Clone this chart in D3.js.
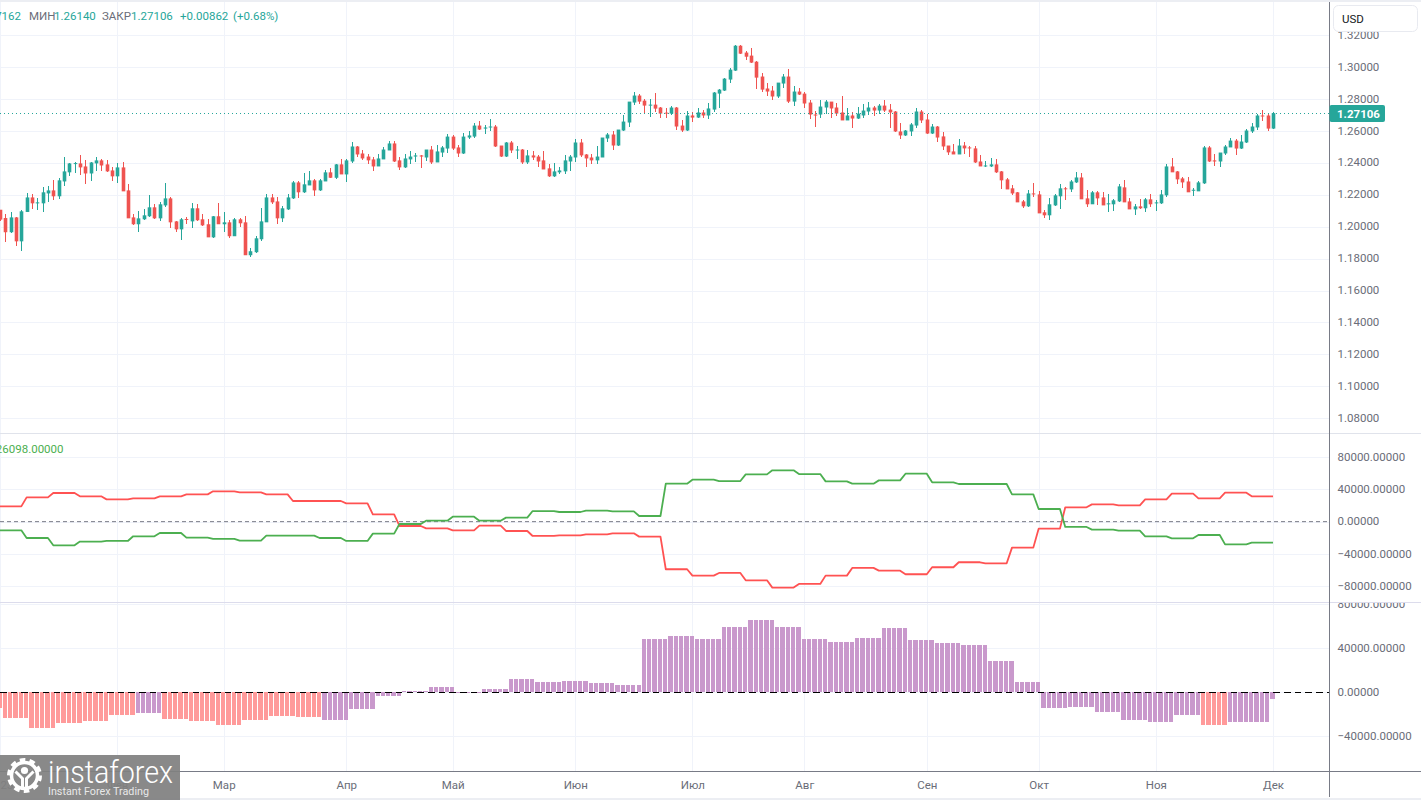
<!DOCTYPE html>
<html><head><meta charset="utf-8">
<style>html,body{margin:0;padding:0;background:#fff;overflow:hidden}svg{display:block}
text{font-family:Roboto,"Liberation Sans",sans-serif}</style>
<script src="https://cdn.jsdelivr.net/npm/d3@7/dist/d3.min.js"></script></head>
<body><svg id="c" width="1421" height="800"></svg>
<script>
const opens=[
1.2106,1.2054,1.1965,1.2058,1.1908,1.2092,1.2183,1.2146,1.2146,1.2208,
1.2227,1.2190,1.2283,1.2340,1.2392,1.2396,1.2377,1.2333,1.2396,1.2415,
1.2390,1.2352,1.2315,1.2371,1.2227,1.2058,1.2015,1.2046,1.2065,1.2121,
1.2052,1.2133,1.2177,1.2033,1.1983,1.2048,1.2033,1.2115,1.2046,1.2015,
1.1933,1.2065,1.2015,1.2027,1.1940,1.2046,1.2027,1.1821,1.1840,1.1921,
1.2027,1.2183,1.2158,1.2052,1.2108,1.2177,1.2277,1.2215,1.2258,1.2290,
1.2227,1.2283,1.2340,1.2306,1.2390,1.2327,1.2408,1.2502,1.2458,1.2439,
1.2421,1.2377,1.2421,1.2477,1.2521,1.2415,1.2371,1.2421,1.2439,1.2446,
1.2433,1.2483,1.2402,1.2464,1.2489,1.2564,1.2496,1.2458,1.2558,1.2564,
1.2633,1.2614,1.2621,1.2627,1.2508,1.2439,1.2527,1.2477,1.2483,1.2402,
1.2446,1.2439,1.2415,1.2365,1.2315,1.2340,1.2346,1.2408,1.2433,1.2527,
1.2452,1.2433,1.2415,1.2433,1.2552,1.2577,1.2508,1.2602,1.2652,1.2777,
1.2821,1.2789,1.2758,1.2764,1.2746,1.2714,1.2708,1.2746,1.2633,1.2602,
1.2696,1.2683,1.2715,1.2696,1.2733,1.2833,1.2852,1.2921,1.2977,1.3133,
1.3090,1.3071,1.3033,1.2940,1.2865,1.2852,1.2815,1.2896,1.2940,1.2783,
1.2846,1.2833,1.2777,1.2702,1.2702,1.2746,1.2783,1.2746,1.2715,1.2665,
1.2696,1.2677,1.2696,1.2721,1.2746,1.2727,1.2758,1.2733,1.2721,1.2596,
1.2571,1.2596,1.2633,1.2721,1.2671,1.2583,1.2627,1.2565,1.2508,1.2471,
1.2452,1.2508,1.2496,1.2490,1.2408,1.2377,1.2377,1.2390,1.2346,1.2296,
1.2240,1.2215,1.2158,1.2127,1.2208,1.2202,1.2090,1.2071,1.2133,1.2190,
1.2240,1.2233,1.2277,1.2308,1.2177,1.2140,1.2215,1.2183,1.2140,1.2140,
1.2158,1.2246,1.2158,1.2108,1.2127,1.2115,1.2171,1.2148,1.2146,1.2196,
1.2377,1.2346,1.2302,1.2283,1.2227,1.2221,1.2271,1.2496,1.2415,1.2408,
1.2458,1.2496,1.2539,1.2489,1.2527,1.2596,1.2621,1.2696,1.2696,1.2614];
const highs=[
1.2106,1.2081,1.2090,1.2058,1.2102,1.2208,1.2202,1.2177,1.2246,1.2252,
1.2290,1.2302,1.2433,1.2396,1.2402,1.2446,1.2415,1.2402,1.2433,1.2421,
1.2415,1.2371,1.2396,1.2402,1.2265,1.2077,1.2096,1.2108,1.2196,1.2140,
1.2152,1.2271,1.2183,1.2033,1.2052,1.2058,1.2146,1.2140,1.2077,1.2046,
1.2065,1.2146,1.2090,1.2040,1.2052,1.2052,1.2065,1.1865,1.1940,1.2115,
1.2202,1.2202,1.2183,1.2127,1.2202,1.2283,1.2283,1.2333,1.2346,1.2296,
1.2296,1.2352,1.2365,1.2390,1.2421,1.2421,1.2527,1.2508,1.2477,1.2458,
1.2439,1.2458,1.2496,1.2539,1.2539,1.2439,1.2452,1.2471,1.2464,1.2446,
1.2483,1.2502,1.2514,1.2502,1.2583,1.2571,1.2514,1.2589,1.2596,1.2652,
1.2664,1.2639,1.2677,1.2639,1.2508,1.2533,1.2539,1.2508,1.2489,1.2483,
1.2471,1.2446,1.2471,1.2390,1.2396,1.2371,1.2446,1.2446,1.2546,1.2546,
1.2458,1.2458,1.2502,1.2558,1.2589,1.2596,1.2608,1.2702,1.2783,1.2846,
1.2833,1.2802,1.2802,1.2839,1.2752,1.2746,1.2758,1.2752,1.2665,1.2727,
1.2721,1.2740,1.2733,1.2777,1.2846,1.2865,1.2933,1.2996,1.3140,1.3140,
1.3102,1.3121,1.3039,1.2965,1.2902,1.2883,1.2902,1.2958,1.2990,1.2883,
1.2871,1.2840,1.2796,1.2727,1.2790,1.2790,1.2783,1.2777,1.2815,1.2740,
1.2715,1.2752,1.2765,1.2783,1.2758,1.2765,1.2796,1.2765,1.2727,1.2652,
1.2608,1.2652,1.2740,1.2733,1.2708,1.2640,1.2633,1.2590,1.2508,1.2515,
1.2546,1.2527,1.2502,1.2508,1.2446,1.2408,1.2427,1.2421,1.2346,1.2302,
1.2258,1.2215,1.2165,1.2227,1.2271,1.2221,1.2102,1.2177,1.2202,1.2265,
1.2246,1.2290,1.2340,1.2333,1.2227,1.2221,1.2221,1.2215,1.2202,1.2171,
1.2265,1.2290,1.2177,1.2140,1.2171,1.2177,1.2202,1.2165,1.2227,1.2390,
1.2427,1.2346,1.2308,1.2308,1.2240,1.2283,1.2502,1.2502,1.2458,1.2464,
1.2514,1.2558,1.2546,1.2571,1.2614,1.2646,1.2708,1.2733,1.2708,1.2716];
const lows=[
1.2035,1.1902,1.1960,1.1877,1.1846,1.2092,1.2108,1.2102,1.2090,1.2152,
1.2165,1.2171,1.2252,1.2315,1.2333,1.2321,1.2265,1.2283,1.2346,1.2346,
1.2340,1.2283,1.2271,1.2221,1.2052,1.2008,1.1965,1.2040,1.2058,1.2046,
1.2033,1.2121,1.1990,1.1965,1.1915,1.2015,1.1990,1.2033,1.2002,1.1933,
1.1927,1.2015,1.1965,1.1927,1.1940,1.1996,1.1821,1.1808,1.1833,1.1908,
1.2027,1.2140,1.2015,1.2027,1.2102,1.2171,1.2177,1.2208,1.2258,1.2190,
1.2221,1.2283,1.2302,1.2296,1.2327,1.2277,1.2396,1.2439,1.2415,1.2390,
1.2346,1.2377,1.2421,1.2477,1.2402,1.2352,1.2365,1.2390,1.2402,1.2365,
1.2408,1.2390,1.2402,1.2433,1.2464,1.2477,1.2433,1.2458,1.2546,1.2558,
1.2608,1.2577,1.2602,1.2496,1.2439,1.2439,1.2464,1.2421,1.2390,1.2390,
1.2415,1.2371,1.2358,1.2308,1.2308,1.2327,1.2327,1.2346,1.2402,1.2439,
1.2371,1.2390,1.2390,1.2433,1.2533,1.2483,1.2508,1.2602,1.2627,1.2764,
1.2771,1.2714,1.2689,1.2721,1.2683,1.2683,1.2702,1.2608,1.2590,1.2596,
1.2658,1.2683,1.2683,1.2671,1.2721,1.2746,1.2852,1.2902,1.2977,1.3083,
1.3046,1.3027,1.2865,1.2840,1.2815,1.2796,1.2808,1.2871,1.2777,1.2758,
1.2827,1.2740,1.2677,1.2621,1.2683,1.2708,1.2683,1.2690,1.2665,1.2665,
1.2615,1.2677,1.2683,1.2702,1.2690,1.2708,1.2715,1.2615,1.2590,1.2546,
1.2565,1.2565,1.2615,1.2652,1.2577,1.2583,1.2527,1.2483,1.2446,1.2452,
1.2452,1.2458,1.2433,1.2396,1.2377,1.2371,1.2371,1.2333,1.2233,1.2233,
1.2196,1.2152,1.2115,1.2121,1.2183,1.2083,1.2052,1.2040,1.2127,1.2108,
1.2165,1.2215,1.2271,1.2171,1.2121,1.2140,1.2133,1.2133,1.2090,1.2096,
1.2152,1.2152,1.2108,1.2071,1.2108,1.2090,1.2121,1.2096,1.2140,1.2183,
1.2340,1.2265,1.2240,1.2215,1.2190,1.2221,1.2265,1.2402,1.2377,1.2371,
1.2446,1.2496,1.2446,1.2489,1.2521,1.2589,1.2608,1.2664,1.2602,1.2614];
const closes=[
1.2044,1.1965,1.2058,1.1908,1.2096,1.2183,1.2146,1.2152,1.2215,1.2227,
1.2190,1.2290,1.2346,1.2396,1.2398,1.2371,1.2333,1.2402,1.2415,1.2383,
1.2346,1.2315,1.2371,1.2221,1.2052,1.2015,1.2052,1.2071,1.2121,1.2052,
1.2140,1.2177,1.2027,1.1983,1.2046,1.2042,1.2115,1.2040,1.2008,1.1933,
1.2065,1.2015,1.2027,1.1940,1.2046,1.2021,1.1821,1.1846,1.1927,1.2033,
1.2183,1.2152,1.2052,1.2115,1.2183,1.2277,1.2215,1.2265,1.2290,1.2227,
1.2290,1.2340,1.2306,1.2390,1.2327,1.2415,1.2502,1.2452,1.2427,1.2415,
1.2377,1.2427,1.2483,1.2521,1.2408,1.2371,1.2427,1.2439,1.2446,1.2439,
1.2483,1.2402,1.2471,1.2496,1.2564,1.2489,1.2458,1.2564,1.2571,1.2633,
1.2608,1.2621,1.2627,1.2502,1.2439,1.2527,1.2477,1.2483,1.2402,1.2446,
1.2433,1.2408,1.2358,1.2315,1.2346,1.2352,1.2415,1.2439,1.2527,1.2446,
1.2427,1.2415,1.2439,1.2558,1.2577,1.2508,1.2608,1.2658,1.2783,1.2821,
1.2783,1.2758,1.2764,1.2739,1.2708,1.2708,1.2746,1.2627,1.2602,1.2696,
1.2683,1.2715,1.2696,1.2740,1.2840,1.2858,1.2927,1.2983,1.3133,1.3083,
1.3064,1.3027,1.2933,1.2858,1.2846,1.2815,1.2902,1.2940,1.2783,1.2846,
1.2827,1.2771,1.2702,1.2698,1.2752,1.2783,1.2740,1.2708,1.2665,1.2696,
1.2677,1.2708,1.2727,1.2746,1.2727,1.2758,1.2727,1.2715,1.2596,1.2571,
1.2602,1.2640,1.2721,1.2665,1.2583,1.2627,1.2558,1.2502,1.2465,1.2452,
1.2508,1.2490,1.2492,1.2402,1.2377,1.2383,1.2390,1.2340,1.2290,1.2233,
1.2208,1.2152,1.2127,1.2208,1.2202,1.2083,1.2071,1.2140,1.2196,1.2240,
1.2235,1.2283,1.2308,1.2171,1.2140,1.2215,1.2177,1.2133,1.2146,1.2165,
1.2252,1.2152,1.2108,1.2127,1.2115,1.2171,1.2140,1.2152,1.2202,1.2377,
1.2340,1.2296,1.2277,1.2215,1.2231,1.2277,1.2496,1.2408,1.2408,1.2464,
1.2502,1.2539,1.2489,1.2533,1.2602,1.2627,1.2696,1.2692,1.2614,1.27106];

const shortsWeekly=[19000,30200,35600,31500,27700,29000,31500,33900,37700,36400,33900,25700,25700,22800,9100,-5400,-8300,-10800,-5000,-11600,-17800,-17000,-15700,-14500,-18600,-59200,-67100,-63800,-72900,-82000,-77400,-67100,-57500,-60900,-65400,-56700,-50500,-51800,-32300,-8700,17800,21500,20300,27700,34800,29000,36000,31500];
const longsWeekly=[-10800,-20300,-29400,-24800,-24000,-18200,-14100,-19900,-21500,-23600,-17400,-17400,-20300,-24000,-14900,-2900,1200,6200,1200,5000,13200,12000,13700,12800,7000,47200,52200,50500,58800,63800,59200,50100,47200,51300,59600,48900,46800,46800,33900,15700,-6600,-9900,-11200,-18200,-20700,-16600,-28200,-26098];

const histValues=[-14200,-23300,-32400,-27900,-26100,-20600,-18800,-24200,-26100,-29700,-25100,-21500,-22400,-25100,-15200,-3300,1200,4800,-500,3000,12100,9400,10300,8500,6700,48500,51200,48500,59400,65800,59400,48500,45800,49400,58500,47600,44800,43000,28500,9400,-14200,-13300,-17900,-25100,-27000,-20600,-29700,-27000,-27000,-6100];
const histLength=[1,5,5,5,5,5,5,5,5,5,5,5,5,5,5,5,5,5,5,5,5,5,5,5,5,5,5,5,5,5,5,5,5,5,5,5,5,5,5,5,5,5,5,5,5,5,5,5,3,1];
const histPhase=["a","a","a","a","a","a","b","a","a","a","a","a","a","b","b","b","b","b","b","b","b","b","b","b","b","b","b","b","b","b","b","b","b","b","b","b","b","b","b","b","b","b","b","b","b","b","a","b","b","b"];

const priceTicks=[1.32,1.30,1.28,1.26,1.24,1.22,1.20,1.18,1.16,1.14,1.12,1.10,1.08];
const positionTicks=[80000,40000,0,-40000,-80000];
const histTicks=[80000,40000,0,-40000];
const monthBars=[0,22,42,65,85,108,130,151,174,195,217,239];
const monthLabels=["2023","Фев","Мар","Апр","Май","Июн","Июл","Авг","Сен","Окт","Ноя","Дек"];
const lastPrice=1.27106;

const C={up:"#26a69a",down:"#ef5350",grid:"#f0f3fa",axis:"#787b86",label:"#6a6d78",long:"#4caf50",short:"#ff5252",a:"#ff9a9a",b:"#c999cc"};
const axisX=1329.5, W=1421;
const svg=d3.select("#c");
const x=d3.scaleLinear().domain([0,239]).range([0,1273]);
const yP=d3.scaleLinear().domain([1.08,1.32]).range([418.3,35]);
const yL=d3.scaleLinear().domain([-80000,80000]).range([586,457.3]);
const yH=d3.scaleLinear().domain([-40000,80000]).range([736.3,604.3]);
const fmt=d3.format(".5f");
const minus=s=>s.replace("-","\u2212");

const defs=svg.append("defs");
defs.append("clipPath").attr("id","cp").append("rect").attr("x",0).attr("y",0).attr("width",axisX).attr("height",433);
defs.append("clipPath").attr("id","ch").append("rect").attr("x",axisX).attr("y",603).attr("width",W-axisX).attr("height",168);

svg.append("rect").attr("width",W).attr("height",800).attr("fill","#fff");

// grid
const grid=svg.append("g").attr("shape-rendering","crispEdges").attr("stroke",C.grid);
grid.selectAll(".v").data(monthBars).join("line").attr("x1",d=>Math.round(x(d))+.5).attr("x2",d=>Math.round(x(d))+.5).attr("y1",2).attr("y2",771);
[[priceTicks,yP],[positionTicks,yL],[histTicks,yH]].forEach(([t,s])=>{
  grid.append("g").selectAll("line").data(t).join("line").attr("x1",0).attr("x2",axisX).attr("y1",d=>Math.round(s(d))+.5).attr("y2",d=>Math.round(s(d))+.5);
});

// candles
const bars=d3.range(closes.length);
const cg=svg.append("g").attr("clip-path","url(#cp)");
const col=i=>closes[i]>=opens[i]?C.up:C.down;
cg.selectAll(".w").data(bars).join("line").attr("stroke",col).attr("shape-rendering","crispEdges")
  .attr("x1",i=>Math.round(x(i))+.5).attr("x2",i=>Math.round(x(i))+.5)
  .attr("y1",i=>yP(highs[i])).attr("y2",i=>yP(lows[i]));
cg.selectAll(".b").data(bars).join("rect").attr("fill",col)
  .attr("x",i=>Math.round(x(i))+.5-1.8).attr("width",3.6)
  .attr("y",i=>yP(Math.max(opens[i],closes[i])))
  .attr("height",i=>Math.max(1,Math.abs(yP(opens[i])-yP(closes[i]))));

// last price line
svg.append("line").attr("x1",0).attr("x2",axisX).attr("y1",Math.round(yP(lastPrice))+.5).attr("y2",Math.round(yP(lastPrice))+.5)
  .attr("stroke",C.up).attr("stroke-dasharray","1 3");

// position lines
svg.append("line").attr("x1",0).attr("x2",axisX).attr("y1",yL(0)).attr("y2",yL(0)).attr("stroke",C.axis).attr("stroke-dasharray","4 3");
const line=w=>d3.line().x(i=>x(i)).y(i=>yL(w[Math.floor(i/5)]));
[[shortsWeekly,C.short],[longsWeekly,C.long]].forEach(([w,c])=>{
  svg.append("path").attr("d",line(w)(bars)).attr("fill","none").attr("stroke",c).attr("stroke-width",1.8).attr("stroke-linejoin","round");
});

// histogram
const histBarValues=d3.merge(histLength.map((n,k)=>d3.range(n).map(()=>({v:histValues[k],p:histPhase[k]}))));
svg.append("g").attr("shape-rendering","crispEdges").selectAll("rect").data(histBarValues).join("rect")
  .attr("x",(d,i)=>Math.round(x(i)-2.66)).attr("width",(d,i)=>Math.round(x(i)+2.66)-Math.round(x(i)-2.66)-1)
  .attr("y",d=>Math.min(yH(d.v),yH(0))).attr("height",d=>Math.abs(yH(d.v)-yH(0)))
  .attr("fill",d=>C[d.p]);
svg.append("line").attr("x1",0).attr("x2",axisX).attr("y1",692.5).attr("y2",692.5).attr("stroke","#000").attr("stroke-width",1).attr("stroke-dasharray","6.5 4.2").attr("shape-rendering","crispEdges");

// separators and frame
const frame=svg.append("g").attr("shape-rendering","crispEdges");
frame.append("rect").attr("x",0).attr("y",0).attr("width",W).attr("height",1.5).attr("fill","#eceef3");
frame.append("rect").attr("x",0).attr("y",798).attr("width",W).attr("height",2).attr("fill","#eceef3");
frame.append("line").attr("x1",0).attr("x2",W).attr("y1",433.5).attr("y2",433.5).attr("stroke","#e0e3eb");
frame.append("line").attr("x1",0).attr("x2",W).attr("y1",602.5).attr("y2",602.5).attr("stroke","#dcdcec");
frame.append("line").attr("x1",0).attr("x2",W).attr("y1",771.5).attr("y2",771.5).attr("stroke",C.axis);
frame.append("line").attr("x1",axisX).attr("x2",axisX).attr("y1",2).attr("y2",797).attr("stroke",C.axis);

// axes
function styleAxis(g){g.select(".domain").remove();g.selectAll("line").remove();
  g.selectAll("text").attr("fill",C.label).attr("font-size",11.5).attr("font-family","Roboto");}
const yShift=t=>`translate(${axisX},-0.5)`;
svg.append("g").attr("transform",yShift()).call(d3.axisRight(yP).tickValues(priceTicks).tickFormat(fmt).tickSize(0).tickPadding(8)).call(styleAxis);
svg.append("g").attr("transform",yShift()).call(d3.axisRight(yL).tickValues(positionTicks).tickFormat(d=>minus(fmt(d))).tickSize(0).tickPadding(8)).call(styleAxis);
svg.append("g").attr("clip-path","url(#ch)").append("g").attr("transform",yShift()).call(d3.axisRight(yH).tickValues(histTicks).tickFormat(d=>minus(fmt(d))).tickSize(0).tickPadding(8)).call(styleAxis);
svg.append("g").attr("transform","translate(0,778)").call(d3.axisBottom(x).tickValues(monthBars).tickFormat((d,i)=>monthLabels[i]).tickSize(0).tickPadding(3)).call(styleAxis);

// legend
const leg=svg.append("g").attr("font-size",11.5);
[["7162",21,C.up,"end"],["МИН",29,C.label,"start"],["1.26140",54,C.up,"start"],["ЗАКР",102,C.label,"start"],["1.27106",131,C.up,"start"],["+0.00862",180,C.up,"start"],["(+0.68%)",233,C.up,"start"]]
 .forEach(([t,px,c,a])=>leg.append("text").attr("x",px).attr("y",19.5).attr("fill",c).attr("text-anchor",a).text(t));
svg.append("text").attr("x",63.5).attr("y",453).attr("text-anchor","end").attr("font-size",11.5).attr("fill",C.long).text("26098.00000");

// last price tag
const tagY=Math.round(yP(lastPrice))+.5;
svg.append("rect").attr("x",axisX).attr("y",tagY-8.5).attr("width",55.5).attr("height",17).attr("rx",2).attr("fill",C.up);
svg.append("text").attr("x",1337).attr("y",tagY+4).attr("fill","#fff").attr("font-size",11.5).attr("font-weight",700).text(fmt(lastPrice));

// currency button
svg.append("rect").attr("x",1333.5).attr("y",5.5).attr("width",84).attr("height",26).attr("rx",5).attr("fill","#fff").attr("stroke","#e8eaf0");
svg.append("text").attr("x",1342).attr("y",22.5).attr("font-size",11.5).attr("fill","#131722").text("USD");

// logo
const logo=svg.append("g");
logo.append("rect").attr("x",0).attr("y",755).attr("width",180).attr("height",45).attr("fill","#808080").attr("fill-opacity",.93);
const gear=logo.append("g").attr("transform","translate(24.5,775.5)").attr("fill","none").attr("stroke","#fff");
gear.append("circle").attr("r",13).attr("stroke-width",3.5);
gear.append("circle").attr("r",15.5).attr("stroke-width",4).attr("stroke-dasharray","5.5 4.2");
gear.append("circle").attr("cy",-5).attr("r",3.6).attr("fill","#fff").attr("stroke","none");
gear.append("path").attr("d","M-9,-4 L-2,3 L-2,14 M9,-4 L2,3 L2,14").attr("stroke-width",3);
logo.append("text").attr("x",48).attr("y",783).attr("font-family","Lato").attr("font-weight",300).attr("font-size",31).attr("fill","#fff").attr("textLength",125).attr("lengthAdjust","spacingAndGlyphs").text("instaforex");
logo.append("text").attr("x",48).attr("y",794.5).attr("font-family","Roboto").attr("font-size",11).attr("fill","#e8e8e8").attr("textLength",101).attr("lengthAdjust","spacingAndGlyphs").text("Instant Forex Trading");
</script></body></html>
